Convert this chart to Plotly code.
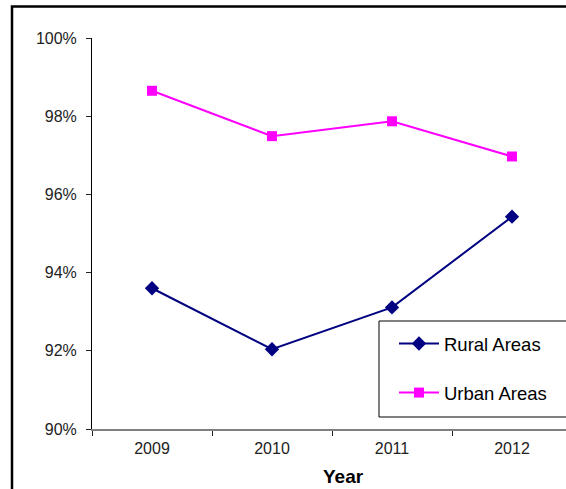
import plotly.graph_objects as go

years = ["2009", "2010", "2011", "2012"]
rural = [0.9360, 0.9204, 0.9311, 0.9543]
urban = [0.9865, 0.9749, 0.9787, 0.9697]
y_ticks = [0.90, 0.92, 0.94, 0.96, 0.98, 1.00]

W, H = 566, 489
L, R, T, B = 92, 0, 38, 60
pw, ph = W - L - R, H - T - B

def px(xp):
    return (xp - L) / pw

def py(yp):
    return (H - B - yp) / ph

fig = go.Figure()
fig.add_trace(go.Scatter(
    x=years, y=rural, name="Rural Areas", mode="lines+markers",
    line=dict(color="#000080", width=2),
    marker=dict(symbol="diamond", size=11, color="#000080"),
    legendgroup="r",
))
fig.add_trace(go.Scatter(
    x=years, y=urban, name="Urban Areas", mode="lines+markers",
    line=dict(color="#FF00FF", width=2),
    marker=dict(symbol="square", size=10, color="#FF00FF"),
    legendgroup="u",
))

fig.update_layout(
    width=W, height=H,
    margin=dict(l=L, r=R, t=T, b=B),
    paper_bgcolor="white", plot_bgcolor="white",
    font=dict(family="Liberation Sans, Arial, sans-serif", color="#222222"),
    xaxis=dict(
        type="category", range=[-0.5, 3.45],
        showgrid=False, zeroline=False,
        showline=True, linecolor="#808080", linewidth=2,
        ticks="outside", ticklen=5, tickcolor="#222222", tickwidth=1,
        tickson="boundaries", ticklabelstandoff=4,
        tickfont=dict(size=16, color="#222222"),
    ),
    yaxis=dict(
        range=[0.90, 1.00], tickvals=y_ticks, tickformat=".0%",
        showgrid=False, zeroline=False,
        showline=True, linecolor="#000000", linewidth=1,
        ticks="outside", ticklen=5, tickcolor="#222222", tickwidth=1,
        ticklabelstandoff=6,
        tickfont=dict(size=16, color="#222222"),
    ),
    showlegend=True,
    legend=dict(
        x=px(394), y=py(325), xanchor="left", yanchor="top",
        borderwidth=0, bgcolor="rgba(0,0,0,0)",
        font=dict(size=18.5, color="#000000"),
        tracegroupgap=22, itemwidth=40,
    ),
    annotations=[dict(
        text="<b>Year</b>", x=px(343), y=py(476), xref="paper", yref="paper",
        xanchor="center", yanchor="middle", showarrow=False,
        font=dict(size=19, color="#000000"),
    )],
    shapes=[
        dict(
            type="rect", xref="paper", yref="paper",
            x0=px(12), x1=1.2, y0=-0.4, y1=py(6.5),
            line=dict(color="#000000", width=2.5), fillcolor="rgba(0,0,0,0)",
            layer="above",
        ),
        dict(
            type="rect", xref="paper", yref="paper",
            x0=px(379), x1=1.1, y0=py(417), y1=py(321),
            line=dict(color="#000000", width=1), fillcolor="white",
            layer="above",
        ),
    ],
)

fig.write_html("out.html")
